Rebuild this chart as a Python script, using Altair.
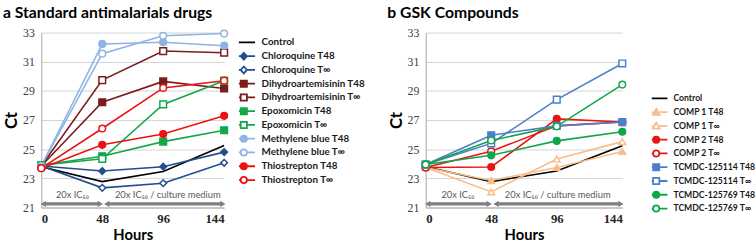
import altair as alt
import pandas as pd

hours = [0, 48, 96, 144]

# ---------- panel a ----------
a_names = ["Control", "Chloroquine T48", "Chloroquine T∞", "Dihydroartemisinin T48",
           "Dihydroartemisinin T∞", "Epoxomicin T48", "Epoxomicin T∞",
           "Methylene blue T48", "Methylene blue T∞", "Thiostrepton T48", "Thiostrepton T∞"]
a_control = [23.8, 22.78, 23.47, 25.25]
a_chloro_t48 = [23.85, 23.5, 23.8, 24.8]
a_chloro_tinf = [23.85, 22.35, 22.67, 24.07]
a_dha_t48 = [23.85, 28.22, 29.65, 29.16]
a_dha_tinf = [23.85, 29.74, 31.73, 31.62]
a_epox_t48 = [23.9, 24.52, 25.52, 26.3]
a_epox_tinf = [23.9, 24.34, 28.07, 29.7]
a_mb_t48 = [23.85, 32.22, 32.33, 32.1]
a_mb_tinf = [23.85, 31.55, 32.78, 32.93]
a_thio_t48 = [23.7, 25.3, 26.04, 27.29]
a_thio_tinf = [23.7, 26.42, 29.2, 29.7]
a_values = [a_control, a_chloro_t48, a_chloro_tinf, a_dha_t48, a_dha_tinf, a_epox_t48,
            a_epox_tinf, a_mb_t48, a_mb_tinf, a_thio_t48, a_thio_tinf]
a_colors = ["#000000", "#1f4e8c", "#1f4e8c", "#7b1c1c", "#7b1c1c", "#12a84a", "#12a84a",
            "#8db4e2", "#8db4e2", "#ee1111", "#ee1111"]
a_markers = ["none", "diamond", "diamond", "square", "square", "square", "square",
             "circle", "circle", "circle", "circle"]
a_filled = [True, True, False, True, False, True, False, True, False, True, False]

# ---------- panel b ----------
b_names = ["Control", "COMP 1 T48", "COMP 1 T∞", "COMP 2 T48", "COMP 2 T∞",
           "TCMDC-125114 T48", "TCMDC-125114 T∞", "TCMDC-125769 T48", "TCMDC-125769 T∞"]
b_control = [23.8, 22.78, 23.5, 25.23]
b_comp1_t48 = [23.75, 22.85, 23.75, 24.85]
b_comp1_tinf = [23.75, 22.07, 24.33, 25.52]
b_comp2_t48 = [23.75, 23.78, 27.08, 26.86]
b_comp2_tinf = [23.75, 24.86, 26.6, 26.86]
b_tc114_t48 = [23.95, 25.96, 26.6, 26.86]
b_tc114_tinf = [23.95, 25.4, 28.4, 30.88]
b_tc769_t48 = [23.95, 24.58, 25.57, 26.2]
b_tc769_tinf = [23.95, 25.6, 26.57, 29.43]
b_values = [b_control, b_comp1_t48, b_comp1_tinf, b_comp2_t48, b_comp2_tinf,
            b_tc114_t48, b_tc114_tinf, b_tc769_t48, b_tc769_tinf]
b_colors = ["#000000", "#f9bd8a", "#f9bd8a", "#e81515", "#e81515", "#4a80c8", "#4a80c8",
            "#0fa64a", "#0fa64a"]
b_markers = ["none", "triangle", "triangle", "circle", "circle", "square", "square",
             "circle", "circle"]
b_filled = [True, True, False, True, False, True, False, True, False]

# annotation (treatment period arrows)
note_labels = ["20x IC₅₀", "20x IC₅₀ / culture medium"]
note_text_hour = [11.5, 58]
note_start = [1.5, 51.5]
note_end = [46.5, 143]
note_ct = 21.25
note_text_ct = 21.85

y_ticks = [21, 23, 25, 27, 29, 31, 33]

std_shape = {"square": "square", "circle": "circle", "diamond": "diamond", "triangle": "triangle-up"}
path_marker = {
    "square": "M-1,-1H1V1H-1Z",
    "circle": "M1,0A1,1,0,1,1,-1,0A1,1,0,1,1,1,0Z",
    "diamond": "M0,-1.1L1,0L0,1.1L-1,0Z",
    "triangle": "M0,-1.1L1.15,0.9H-1.15Z",
}


def legend_path(m):
    if m == "none":
        return "M-3.6,0H3.6"
    return "M-3.6,0H-1.05M1.05,0H3.6" + path_marker[m]


X_AXIS = alt.Axis(values=hours, title="Hours", grid=False, ticks=False,
                  domainColor="#a6a6a6", labelFont="Liberation Serif",
                  labelFontWeight="bold", labelFontSize=13, labelColor="#262626",
                  labelPadding=5, titleFont="Lato", titleFontSize=15,
                  titleFontWeight="bold", titleColor="#000000", titlePadding=3)
Y_AXIS = alt.Axis(values=y_ticks, title="Ct", grid=True, gridColor="#d4d4d4",
                  ticks=False, domainColor="#a6a6a6", labelFont="Liberation Serif",
                  labelFontSize=12, labelColor="#404040", labelPadding=7,
                  labelOverlap=False,
                  titleFont="Lato", titleFontSize=17, titleFontWeight="bold",
                  titleColor="#000000", titlePadding=2)
X_SCALE = alt.Scale(domain=[0, 144], nice=False, zero=False)
Y_SCALE = alt.Scale(domain=[21, 33], nice=False, zero=False)


def X(f):
    return alt.X(f, scale=X_SCALE, axis=X_AXIS)


def Y(f):
    return alt.Y(f, scale=Y_SCALE, axis=Y_AXIS)


def panel(names, values, colors, markers, filled, width, title, lx, ly, lfs):
    rows = []
    for n, vals in zip(names, values):
        for h, v in zip(hours, vals):
            rows.append({"series": n, "hour": h, "ct": v})
    df = pd.DataFrame(rows)

    lines = alt.Chart(df).mark_line(strokeWidth=1.6).encode(
        x=X("hour:Q"), y=Y("ct:Q"),
        stroke=alt.Stroke("series:N", scale=alt.Scale(domain=names, range=colors), legend=None),
    )

    pt_names = [n for n, m in zip(names, markers) if m != "none"]
    pt_shapes = [std_shape[m] for m in markers if m != "none"]
    pt_colors = [c for c, m in zip(colors, markers) if m != "none"]
    pt_fills = [c if f else "#ffffff" for c, f, m in zip(colors, filled, markers) if m != "none"]
    pts = alt.Chart(df).transform_filter(
        alt.FieldOneOfPredicate(field="series", oneOf=pt_names)
    ).mark_point(size=46, strokeWidth=1.5, opacity=1).encode(
        x=X("hour:Q"), y=Y("ct:Q"),
        shape=alt.Shape("series:N", scale=alt.Scale(domain=pt_names, range=pt_shapes), legend=None),
        fill=alt.Fill("series:N", scale=alt.Scale(domain=pt_names, range=pt_fills), legend=None),
        stroke=alt.Stroke("series:N", scale=alt.Scale(domain=pt_names, range=pt_colors), legend=None),
    )

    leg = alt.Legend(orient="none", legendX=lx, legendY=ly, title=None, labelFont="Lato",
                     labelFontSize=lfs, labelFontWeight="bold", labelColor="#1a1a1a",
                     symbolSize=40, symbolStrokeWidth=1.8, symbolOpacity=1, labelOffset=13,
                     rowPadding=0, clipHeight=14)
    leg_fills = [c if f else "#ffffff" for c, f in zip(colors, filled)]
    legend_layer = alt.Chart(df).transform_filter("datum.hour == 0").mark_point(
        opacity=0, strokeWidth=1.8, size=40).encode(
        x=X("hour:Q"), y=Y("ct:Q"),
        shape=alt.Shape("series:N", scale=alt.Scale(domain=names,
                        range=[legend_path(m) for m in markers]), legend=leg),
        fill=alt.Fill("series:N", scale=alt.Scale(domain=names, range=leg_fills), legend=leg),
        stroke=alt.Stroke("series:N", scale=alt.Scale(domain=names, range=colors), legend=leg),
    )

    ndf = pd.DataFrame({"start": note_start, "end": note_end, "label": note_labels,
                        "th": note_text_hour, "ct": [note_ct] * 2, "tct": [note_text_ct] * 2})
    arrow_line = alt.Chart(ndf).mark_rule(color="#808080", strokeWidth=3.2).encode(
        x=X("start:Q"), x2="end:Q", y=Y("ct:Q"))
    head_l = alt.Chart(ndf).mark_point(shape="triangle-left", filled=True, color="#808080",
                                       size=40, opacity=1).encode(x=X("start:Q"), y=Y("ct:Q"))
    head_r = alt.Chart(ndf).mark_point(shape="triangle-right", filled=True, color="#808080",
                                       size=40, opacity=1).encode(x=X("end:Q"), y=Y("ct:Q"))
    note_txt = alt.Chart(ndf).mark_text(font="Lato", fontSize=9.5, color="#595959",
                                        align="left", baseline="middle").encode(
        x=X("th:Q"), y=Y("tct:Q"), text="label:N")

    return alt.layer(lines, arrow_line, head_l, head_r, note_txt, pts, legend_layer).resolve_scale(
        shape="independent", fill="independent", stroke="independent"
    ).properties(
        width=width, height=178,
        title=alt.TitleParams(title, anchor="start", frame="bounds", font="Lato",
                              fontSize=16, fontWeight="bold", color="#000000", offset=6),
    )


left = panel(a_names, a_values, a_colors, a_markers, a_filled, 186,
             "a  Standard antimalarials drugs", 201, 3, 10)
right = panel(b_names, b_values, b_colors, b_markers, b_filled, 200,
              "b  GSK Compounds", 230, 60, 8.8)

chart = alt.hconcat(left, right, spacing=22).properties(
    padding={"left": 3, "top": 3, "right": 0, "bottom": 0}
).configure_view(stroke=None)

chart.save("out.html", embed_options={"renderer": "svg", "actions": False})
